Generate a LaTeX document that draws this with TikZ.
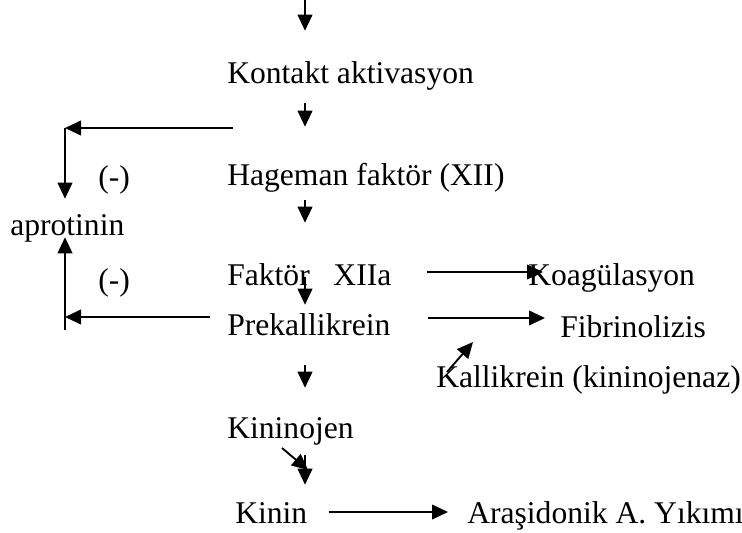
\documentclass[tikz,border=0pt]{standalone}
\usepackage{fontspec}
\setmainfont{Liberation Serif}
\usepackage{xcolor}
\definecolor{cInk}{HTML}{000000}
\usepackage{tikz}
\usetikzlibrary{positioning,arrows.meta,calc}
\tikzset{
  node-text/.style={anchor=base west,inner sep=0pt,text height=16.5pt,
    text depth=0pt,font=\fontsize{23.7pt}{28pt}\selectfont,text=cInk},
  arrow/.style={-{Triangle[length=12pt,width=11pt]},line width=1.4pt,draw=cInk},
  line/.style={line width=1.4pt,draw=cInk},
}
\begin{document}
\begin{tikzpicture}[x=0.75pt,y=-0.75pt]
  \useasboundingbox (0,0) rectangle (742,532);
  % main column
  \node[node-text] (kontakt) at (227,83) {Kontakt aktivasyon};
  \node[node-text] (hageman) at (227,185) {Hageman faktör (XII)};
  \node[node-text] (faktor) at (227,285) {Faktör~~~XIIa};
  \node[node-text] (prekal) at (227,335) {Prekallikrein};
  \node[node-text] (kininojen) at (227,438) {Kininojen};
  \node[node-text] (kinin) at (235,523) {Kinin};
  % side labels
  \node[node-text] (koag) at (528,285) {Koagülasyon};
  \node[node-text] (fibrin) at (560,337) {Fibrinolizis};
  \node[node-text] (kallik) at (436,387) {Kallikrein (kininojenaz)};
  \node[node-text] (arasidonik) at (467,523) {Araşidonik A. Yıkımı};
  \node[node-text] (aprotinin) at (10,235) {aprotinin};
  \node[node-text] (minus-a) at (98,187) {(-)};
  \node[node-text] (minus-b) at (98,290) {(-)};
  % free ends
  \coordinate (col) at (305,0);
  \coordinate (ltop) at (233,128);
  \coordinate (ctop) at (65,128);
  \coordinate (lbot) at (210,317);
  \coordinate (cbot) at (65,330);
  \coordinate (kk-a) at (447,372);
  \coordinate (kk-b) at (473,342);
  \coordinate (kj-a) at (282,448);
  \coordinate (kj-b) at (308,470);
  % vertical chain
  \draw[arrow,shorten >=22.5pt] (col) -- (kontakt.north -| col);
  \draw[arrow,shorten <=15pt,shorten >=27pt] (kontakt.south -| col) -- (hageman.north -| col);
  \draw[arrow,shorten <=11.25pt,shorten >=30pt] (hageman.south -| col) -- (faktor.north -| col);
  \draw[arrow,shorten <=2pt,shorten >=6pt] (faktor.center -| col) -- (prekal.north -| col);
  \draw[arrow,shorten <=22.5pt,shorten >=21pt] (prekal.south -| col) -- (kininojen.north -| col);
  \draw[arrow,shorten <=12.75pt,shorten >=12pt] (kininojen.south -| col) -- (kinin.north -| col);
  \draw[arrow] (kj-a) -- (kj-b);
  % side branches
  \draw[arrow,shorten <=26.25pt,shorten >=-11.25pt] ([yshift=1.5pt]faktor.east) -- ([yshift=1.5pt]faktor.east -| koag.west);
  \draw[arrow,shorten <=27.75pt,shorten >=11.25pt] ([yshift=4.5pt]prekal.east) -- ([yshift=4.5pt]prekal.east -| fibrin.west);
  \draw[arrow] (kk-a) -- (kk-b);
  \draw[arrow,shorten <=15.75pt,shorten >=14.25pt] (kinin.east) -- (kinin.east -| arasidonik.west);
  % aprotinin loop
  \draw[arrow] (ltop) -- (ctop);
  \draw[arrow,shorten >=10.5pt] (ctop) -- (aprotinin.north -| ctop);
  \draw[arrow] (lbot) -- (lbot -| cbot);
  \draw[arrow,shorten >=1.5pt] (cbot) -- (aprotinin.south -| cbot);
\end{tikzpicture}
\end{document}
